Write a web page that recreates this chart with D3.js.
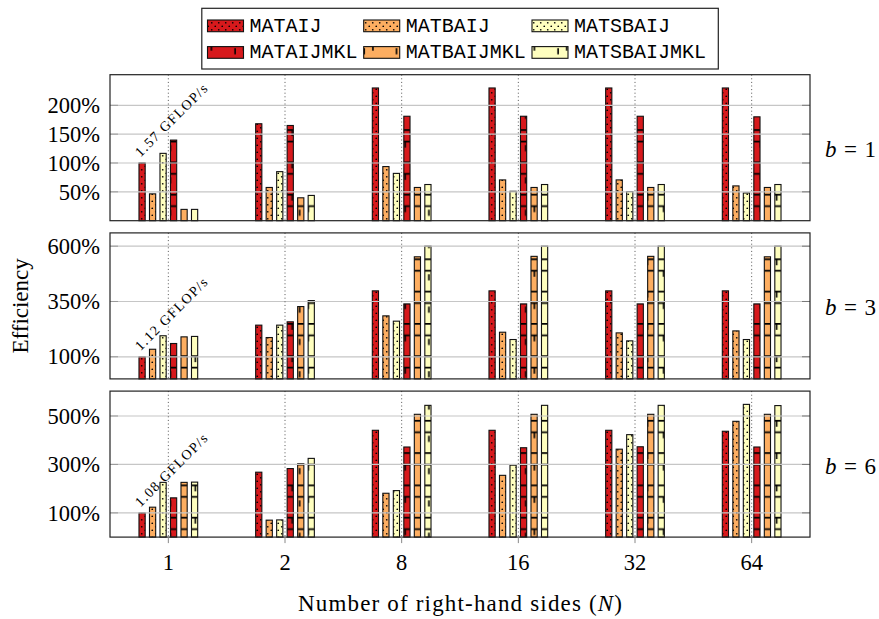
<!DOCTYPE html>
<html>
<head>
<meta charset="utf-8">
<script src="https://cdn.jsdelivr.net/npm/d3@7"></script>
<style>
  body { margin: 0; background: #fff; }
  svg text { font-family: "Liberation Serif", "Times New Roman", Times, "DejaVu Serif", serif; fill: #000; }
  svg text.mono { font-family: "Liberation Mono", "Courier New", monospace; }
</style>
</head>
<body>
<svg id="chart" width="879" height="619"></svg>
<script>
// categories (number of right-hand sides) and series
const categories = ["1", "2", "8", "16", "32", "64"];
const series = ["MATAIJ", "MATBAIJ", "MATSBAIJ", "MATAIJMKL", "MATBAIJMKL", "MATSBAIJMKL"];

// efficiency (%) per series, one row per series, one value per N
const effB1 = [
  [100, 168, 230, 230, 230, 230],
  [46.5, 57.6, 93.8, 70.7, 70.7, 60.3],
  [116.7, 85, 82, 51, 50.5, 48],
  [139.7, 165, 181, 181, 181, 180],
  [19.6, 39.7, 57.6, 57.6, 57.6, 57.6],
  [19.6, 43.8, 62.7, 62.7, 62.7, 62.7]
];
const effB3 = [
  [100, 243, 398, 398, 398, 398],
  [134, 187, 285, 211, 208, 217],
  [195, 243, 261, 178, 172, 178],
  [160, 258, 339, 339, 339, 339],
  [190, 327, 552, 554, 554, 552],
  [192, 354, 600, 600, 600, 600]
];
const effB6 = [
  [100, 268, 441, 441, 441, 437],
  [123.5, 70, 181, 255, 363, 478],
  [226, 71, 192, 297, 423, 548],
  [162, 283, 372, 369, 373, 372],
  [226, 303, 507, 507, 507, 507],
  [227, 325, 544, 544, 544, 543]
];

const blockSizes = [1, 3, 6];
const baseRates = ["1.57 GFLOP/s", "1.12 GFLOP/s", "1.08 GFLOP/s"];
const yTicksB1 = [50, 100, 150, 200];
const yTicksB3 = [100, 350, 600];
const yTicksB6 = [100, 300, 500];

const panels = [
  {b: blockSizes[0], data: effB1, ticks: yTicksB1, rate: baseRates[0]},
  {b: blockSizes[1], data: effB3, ticks: yTicksB3, rate: baseRates[1]},
  {b: blockSizes[2], data: effB6, ticks: yTicksB6, rate: baseRates[2]}
];

// styles
const fills = ["#d7191c", "#fdae61", "#ffffbf", "#d7191c", "#fdae61", "#ffffbf"];
const hatch = ["dots", "dots", "dots", "bricks", "bricks", "bricks"];
const serif = "'Liberation Serif', 'Times New Roman', Times, 'DejaVu Serif', serif";

// layout
const plotL = 110, plotR = 810;
const panelTop0 = 74.7, panelH = 146, panelGap = 12.2;

const svg = d3.select("#chart");
const defs = svg.append("defs");

// dotted fill
let dots = defs.append("pattern")
    .attr("id", "dots")
    .attr("patternUnits", "userSpaceOnUse")
    .attr("width", 7).attr("height", 7);
dots.append("circle").attr("cx", 1.75).attr("cy", 1.75).attr("r", 0.85).attr("fill", "#000");
dots.append("circle").attr("cx", 5.25).attr("cy", 5.25).attr("r", 0.85).attr("fill", "#000");

// brick-like fill
const P = 32.3;
let bricks = defs.append("pattern")
    .attr("id", "bricks")
    .attr("patternUnits", "userSpaceOnUse")
    .attr("width", P).attr("height", P);
bricks.append("path")
    .attr("d", `M0,0.8H${P}M0,12.3H${P}M17.6,12.3V18.3M1.5,0.8V6.8M9,16V22`)
    .attr("stroke", "#000")
    .attr("stroke-width", 1.6)
    .attr("fill", "none");

// x scales: groups and bars inside a group
let x = d3.scaleBand().domain(categories).range([plotL, plotR]);
const half = 10.5 * (6 - 0.41) / 2;
let xs = d3.scaleBand().domain(series).range([-half, half]).paddingInner(0.41);
const cx = c => x(c) + x.bandwidth() / 2;

panels.forEach((p, i) => {
  const top = panelTop0 + i * (panelH + panelGap);
  const bottom = top + panelH;
  const ymax = d3.max(p.data.flat()) * 1.1;
  let y = d3.scaleLinear().domain([0, ymax]).range([bottom, top]);

  let g = svg.append("g");

  // flatten rows into bar records
  let bars = [];
  p.data.forEach((row, si) => row.forEach((v, ci) => {
    bars.push({s: series[si], si: si, c: categories[ci], v: v});
  }));

  // base colour
  g.selectAll("rect.fill").data(bars).enter().append("rect")
      .attr("class", "fill")
      .attr("x", d => cx(d.c) + xs(d.s))
      .attr("y", d => y(d.v))
      .attr("width", xs.bandwidth())
      .attr("height", d => y(0) - y(d.v))
      .attr("fill", d => fills[d.si]);

  // pattern overlay
  g.selectAll("rect.hatch").data(bars).enter().append("rect")
      .attr("class", "hatch")
      .attr("x", d => cx(d.c) + xs(d.s))
      .attr("y", d => y(d.v))
      .attr("width", xs.bandwidth())
      .attr("height", d => y(0) - y(d.v))
      .attr("fill", d => `url(#${hatch[d.si]})`);

  // outline
  g.selectAll("rect.edge").data(bars).enter().append("rect")
      .attr("class", "edge")
      .attr("x", d => cx(d.c) + xs(d.s))
      .attr("y", d => y(d.v))
      .attr("width", xs.bandwidth())
      .attr("height", d => y(0) - y(d.v))
      .attr("fill", "none")
      .attr("stroke", "#111")
      .attr("stroke-width", 1.1);

  // horizontal grid (axis on top)
  g.selectAll("line.grid").data(p.ticks).enter().append("line")
      .attr("x1", plotL).attr("x2", plotR)
      .attr("y1", d => y(d)).attr("y2", d => y(d))
      .attr("stroke", "#c6c6c6")
      .attr("stroke-width", 1.2);

  // dotted vertical lines at each N
  g.selectAll("line.vgrid").data(categories).enter().append("line")
      .attr("x1", d => cx(d)).attr("x2", d => cx(d))
      .attr("y1", top).attr("y2", bottom)
      .attr("stroke", "#555")
      .attr("stroke-width", 1)
      .attr("stroke-dasharray", "1,2.6");

  // small inner ticks on both sides
  g.selectAll("line.rtick").data(p.ticks).enter().append("line")
      .attr("x1", plotR - 8).attr("x2", plotR)
      .attr("y1", d => y(d)).attr("y2", d => y(d))
      .attr("stroke", "#777");
  g.selectAll("line.ltick").data(p.ticks).enter().append("line")
      .attr("x1", plotL).attr("x2", plotL + 8)
      .attr("y1", d => y(d)).attr("y2", d => y(d))
      .attr("stroke", "#999");

  // frame
  g.append("rect")
      .attr("x", plotL).attr("y", top)
      .attr("width", plotR - plotL).attr("height", panelH)
      .attr("fill", "none")
      .attr("stroke", "#222")
      .attr("stroke-width", 1.2);

  // y axis labels
  let yAxis = g.append("g")
      .attr("transform", `translate(${plotL}, 0)`)
      .call(d3.axisLeft(y).tickValues(p.ticks).tickSize(0).tickPadding(10).tickFormat(d => d + "%"));
  yAxis.select(".domain").remove();
  yAxis.attr("font-family", null);
  yAxis.selectAll("text")
      .style("font-family", serif)
      .style("font-size", "22.5px")
      .attr("fill", "#000");

  // base rate annotation above the first MATAIJ bar
  const x0 = cx(categories[0]) + xs(series[0]);
  const y0 = y(p.data[0][0]);
  g.append("text")
      .attr("transform", `translate(${x0 + 1.5}, ${y0 - 5.5}) rotate(-45)`)
      .style("font-size", "14px")
      .attr("textLength", 96)
      .attr("lengthAdjust", "spacing")
      .text(p.rate);

  // b = ... on the right
  const mid = (top + bottom) / 2;
  let bl = g.append("text")
      .attr("x", 825)
      .attr("y", mid + 9.5)
      .style("font-size", "23px")
      .attr("textLength", 51)
      .attr("lengthAdjust", "spacing");
  bl.append("tspan").style("font-style", "italic").text("b");
  bl.append("tspan").text(" = " + p.b);

  // x ticks on last panel
  if (i === panels.length - 1) {
    g.selectAll("line.xtick").data(categories).enter().append("line")
        .attr("x1", d => cx(d)).attr("x2", d => cx(d))
        .attr("y1", bottom).attr("y2", bottom + 6)
        .attr("stroke", "#888");
    g.selectAll("text.xlab").data(categories).enter().append("text")
        .attr("x", d => cx(d))
        .attr("y", bottom + 33)
        .style("text-anchor", "middle")
        .style("font-size", "22.5px")
        .text(d => d);
  }
});

// x axis label
let xl = svg.append("text")
    .attr("x", (plotL + plotR) / 2)
    .attr("y", 611)
    .style("text-anchor", "middle")
    .style("font-size", "23px")
    .attr("textLength", 324)
    .attr("lengthAdjust", "spacing");
xl.append("tspan").text("Number of right-hand sides (");
xl.append("tspan").style("font-style", "italic").text("N");
xl.append("tspan").text(")");

// y axis label
svg.append("text")
    .attr("transform", `translate(28, ${(panelTop0 + panelTop0 + 3 * panelH + 2 * panelGap) / 2}) rotate(-90)`)
    .style("text-anchor", "middle")
    .style("font-size", "23px")
    .text("Efficiency");

// legend, 3 columns x 2 rows
const legX = [249.5, 405.7, 574];
const legY = [31.7, 58.3];
let leg = svg.append("g");
leg.append("rect")
    .attr("x", 201.8).attr("y", 8.3)
    .attr("width", 718.3 - 201.8).attr("height", 69 - 8.3)
    .attr("fill", "#fff")
    .attr("stroke", "#222")
    .attr("stroke-width", 1.2);

series.forEach((s, si) => {
  const tx = legX[si % 3], ty = legY[Math.floor(si / 3)];
  leg.append("rect")
      .attr("x", tx - 42).attr("y", ty - 11.7)
      .attr("width", 36).attr("height", 11.7)
      .attr("fill", fills[si]);
  leg.append("rect")
      .attr("x", tx - 42).attr("y", ty - 11.7)
      .attr("width", 36).attr("height", 11.7)
      .attr("fill", `url(#${hatch[si]})`)
      .attr("stroke", "#111")
      .attr("stroke-width", 1.1);
  leg.append("text")
      .attr("class", "mono")
      .attr("x", tx).attr("y", ty)
      .style("font-size", "20px")
      .text(s);
});
</script>
</body>
</html>
